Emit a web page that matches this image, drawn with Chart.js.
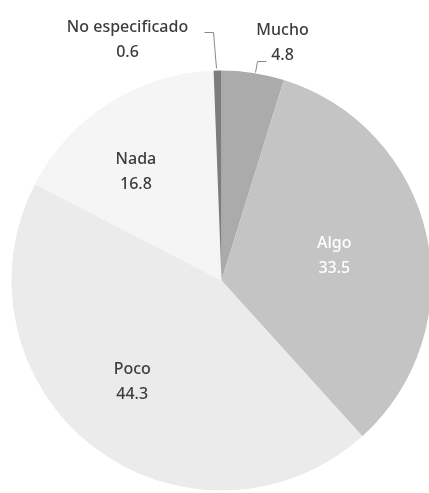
<!DOCTYPE html>
<html>
<head>
<meta charset="utf-8">
<script src="https://cdn.jsdelivr.net/npm/chart.js@4.4.0/dist/chart.umd.min.js"></script>
<style>
  html, body { margin: 0; padding: 0; background: #fff; overflow: hidden; }
  #wrap { width: 429px; height: 493px; position: relative; }
</style>
</head>
<body>
<div id="wrap"><canvas id="pie"></canvas></div>
<script>
/* global Chart */

const categories = ["Mucho", "Algo", "Poco", "Nada", "No especificado"];
const values = [4.8, 33.5, 44.3, 16.8, 0.6];
const sliceColors = ["#ababab", "#c4c4c4", "#ebebeb", "#f5f5f5", "#7d7d7d"];

// where each label sits: inside slices as a fraction of the radius,
// outside ones get a leader line up to text above the pie
const labelSpots = {
  Mucho: { outside: true, tx: 61, ty: -238, line: [[34, -208], [36, -219], [45, -219]] },
  Algo: { frac: 0.55, color: "#ffffff" },
  Poco: { frac: 0.64, turn: 0.07 },
  Nada: { frac: 0.66, turn: -0.1 },
  "No especificado": { outside: true, tx: -94, ty: -241, line: [[-5, -212], [-8, -248], [-17, -248]] },
};

const labelPlugin = {
  id: "sliceLabels",
  afterDatasetsDraw(chart) {
    const ctx = chart.ctx;
    const meta = chart.getDatasetMeta(0);
    ctx.save();
    ctx.font = "500 16px 'Noto Sans'";
    ctx.textAlign = "center";
    ctx.textBaseline = "middle";
    meta.data.forEach((arc, i) => {
      const name = categories[i];
      const spot = labelSpots[name];
      const { x, y, startAngle, endAngle, outerRadius } = arc.getProps(
        ["x", "y", "startAngle", "endAngle", "outerRadius"],
        true
      );
      const mid = (startAngle + endAngle) / 2;
      let lx, ly;
      if (spot.outside) {
        lx = x + spot.tx;
        ly = y + spot.ty;
        ctx.strokeStyle = "#888";
        ctx.lineWidth = 1;
        ctx.beginPath();
        spot.line.forEach((p, k) => {
          if (k === 0) ctx.moveTo(x + p[0], y + p[1]);
          else ctx.lineTo(x + p[0], y + p[1]);
        });
        ctx.stroke();
      } else {
        const a = mid + (spot.turn || 0);
        const r = outerRadius * spot.frac;
        lx = x + Math.cos(a) * r;
        ly = y + Math.sin(a) * r;
      }
      ctx.fillStyle = spot.color || "#3c3c3c";
      ctx.fillText(name, lx, ly - 12);
      ctx.fillText(values[i].toFixed(1), lx, ly + 13);
    });
    ctx.restore();
  },
};

new Chart(document.getElementById("pie"), {
  type: "pie",
  data: {
    labels: categories,
    datasets: [
      {
        data: values,
        backgroundColor: sliceColors,
        borderWidth: 0,
        radius: 210,
      },
    ],
  },
  options: {
    responsive: true,
    maintainAspectRatio: false,
    animation: false,
    layout: { padding: { top: 70, bottom: 2, left: 14, right: 0 } },
    plugins: { legend: { display: false }, tooltip: { enabled: false } },
  },
  plugins: [labelPlugin],
});
</script>
</body>
</html>
